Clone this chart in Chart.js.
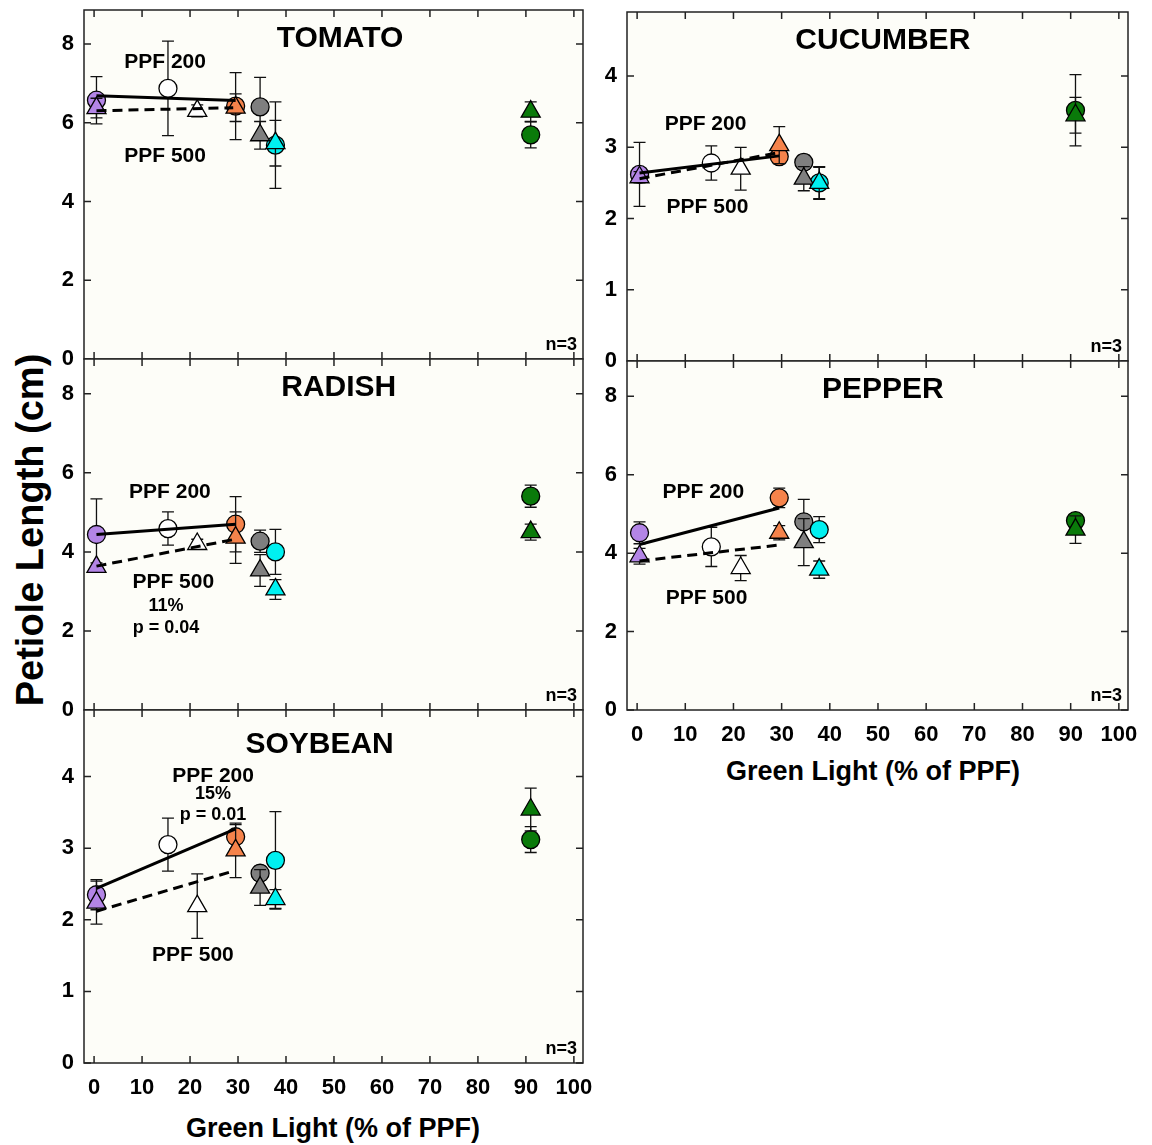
<!DOCTYPE html>
<html>
<head>
<meta charset="utf-8">
<script src="https://cdn.jsdelivr.net/npm/chart.js@4.4.0/dist/chart.umd.min.js"></script>
<style>
  body { margin: 0; background: #fff; width: 1152px; height: 1145px; position: relative; overflow: hidden;
         font-family: 'Liberation Sans', Arial, sans-serif; }
  canvas { position: absolute; }
  .axtitle { position: absolute; font-weight: bold; white-space: nowrap; color: #000; }
</style>
</head>
<body>
<div class="axtitle" style="left:30px;top:530px;font-size:38px;transform:translate(-50%,-50%) rotate(-90deg)">Petiole Length (cm)</div>
<div class="axtitle" style="left:333px;top:1128px;font-size:27px;transform:translate(-50%,-50%)">Green Light (% of PPF)</div>
<div class="axtitle" style="left:873px;top:771px;font-size:27px;transform:translate(-50%,-50%)">Green Light (% of PPF)</div>
<script>
// tick values
const xTicks = [0, 10, 20, 30, 40, 50, 60, 70, 80, 90, 100];
const tallTicks = [0, 2, 4, 6, 8];
const shortTicks = [0, 1, 2, 3, 4];

// green light % for each treatment (purple, white, orange, gray, cyan, green)
const x200 = [0.5, 15.4, 29.5, 34.6, 37.8, 91];
const x500 = [0.5, 21.5, 29.5, 34.6, 37.8, 91];
const fitX200 = [0.5, 29.5];
const fitX500 = [0.5, 29];
const markColors = ['#B385E6', '#FFFFFF', '#F5834B', '#7F7F7F', '#00F0F0', '#0A7A0A'];

// petiole length (cm), circles = PPF 200, triangles = PPF 500
const tomato200 = [6.57, 6.87, 6.42, 6.40, 5.43, 5.69];
const tomato200Err = [0.6, 1.2, 0.85, 0.75, 1.1, 0.33];
const tomato500 = [6.37, 6.3, 6.38, 5.68, 5.48, 6.28];
const tomato500Err = [0.25, 0.15, 0.35, 0.35, 0.58, 0.25];
const tomatoFit200 = [6.68, 6.56];
const tomatoFit500 = [6.3, 6.38];

const cucumber200 = [2.62, 2.78, 2.87, 2.79, 2.5, 3.52];
const cucumber200Err = [0.45, 0.24, 0.1, 0.1, 0.23, 0.5];
const cucumber500 = [2.58, 2.7, 3.03, 2.56, 2.5, 3.45];
const cucumber500Err = [0.08, 0.3, 0.26, 0.17, 0.22, 0.25];
const cucumberFit200 = [2.64, 2.88];
const cucumberFit500 = [2.56, 2.92];

const radish200 = [4.44, 4.59, 4.7, 4.27, 4.0, 5.41];
const radish200Err = [0.9, 0.42, 0.7, 0.28, 0.57, 0.28];
const radish500 = [3.62, 4.2, 4.36, 3.53, 3.05, 4.5];
const radish500Err = [0.1, 0.12, 0.65, 0.4, 0.25, 0.2];
const radishFit200 = [4.44, 4.7];
const radishFit500 = [3.64, 4.31];

const pepper200 = [4.52, 4.16, 5.41, 4.8, 4.6, 4.83];
const pepper200Err = [0.28, 0.5, 0.25, 0.57, 0.33, 0.15];
const pepper500 = [3.92, 3.62, 4.52, 4.28, 3.58, 4.6];
const pepper500Err = [0.2, 0.32, 0.18, 0.6, 0.22, 0.35];
const pepperFit200 = [4.22, 5.15];
const pepperFit500 = [3.8, 4.2];

const soybean200 = [2.35, 3.05, 3.16, 2.65, 2.83, 3.12];
const soybean200Err = [0.21, 0.37, 0.17, 0.1, 0.68, 0.18];
const soybean500 = [2.24, 2.19, 2.97, 2.45, 2.29, 3.54];
const soybean500Err = [0.3, 0.45, 0.38, 0.25, 0.13, 0.3];
const soybeanFit200 = [2.44, 3.27];
const soybeanFit500 = [2.12, 2.68];

const FONT = "'Liberation Sans', Arial, sans-serif";

// panel layout: plot box [left, top, right, bottom] in page px
const panels = [
  { name: 'TOMATO', box: [84, 10, 583, 359], yMax: 8.86, yTicks: tallTicks, showX: false,
    v200: tomato200, e200: tomato200Err, v500: tomato500, e500: tomato500Err, fit200: tomatoFit200, fit500: tomatoFit500,
    notes: [['TOMATO', 51.25, 8.12, 30], ['PPF 200', 14.8, 7.54, 21], ['PPF 500', 14.8, 5.15, 21]] },
  { name: 'CUCUMBER', box: [627, 12, 1128, 361], yMax: 4.9, yTicks: shortTicks, showX: false,
    v200: cucumber200, e200: cucumber200Err, v500: cucumber500, e500: cucumber500Err, fit200: cucumberFit200, fit500: cucumberFit500,
    notes: [['CUCUMBER', 51, 4.49, 30], ['PPF 200', 14.2, 3.32, 21], ['PPF 500', 14.6, 2.16, 21]] },
  { name: 'RADISH', box: [84, 359, 583, 710], yMax: 8.88, yTicks: tallTicks, showX: false,
    v200: radish200, e200: radish200Err, v500: radish500, e500: radish500Err, fit200: radishFit200, fit500: radishFit500,
    notes: [['RADISH', 51, 8.15, 30], ['PPF 200', 15.8, 5.52, 21], ['PPF 500', 16.5, 3.24, 21],
            ['11%', 15, 2.63, 18], ['p = 0.04', 15, 2.08, 18]] },
  { name: 'PEPPER', box: [627, 361, 1128, 710], yMax: 8.9, yTicks: tallTicks, showX: true,
    v200: pepper200, e200: pepper200Err, v500: pepper500, e500: pepper500Err, fit200: pepperFit200, fit500: pepperFit500,
    notes: [['PEPPER', 51, 8.16, 30], ['PPF 200', 13.75, 5.55, 21], ['PPF 500', 14.4, 2.86, 21]] },
  { name: 'SOYBEAN', box: [84, 710, 583, 1063], yMax: 4.93, yTicks: shortTicks, showX: true,
    v200: soybean200, e200: soybean200Err, v500: soybean500, e500: soybean500Err, fit200: soybeanFit200, fit500: soybeanFit500,
    notes: [['SOYBEAN', 47, 4.45, 30], ['PPF 200', 24.8, 4.01, 21], ['15%', 24.8, 3.76, 18],
            ['p = 0.01', 24.8, 3.47, 18], ['PPF 500', 20.6, 1.5, 21]] }
];

const framePlugin = {
  id: 'frame',
  beforeDraw(chart) {
    const { ctx, chartArea: a } = chart;
    ctx.save();
    ctx.fillStyle = '#FDFDF8';
    ctx.fillRect(a.left, a.top, a.right - a.left, a.bottom - a.top);
    ctx.restore();
  },
  // error bars go right under their own markers
  beforeDatasetDraw(chart, args) {
    const ds = chart.data.datasets[args.index];
    if (!ds.errors) return;
    const ctx = chart.ctx, ys = chart.scales.y;
    ctx.save();
    ctx.strokeStyle = '#111';
    ctx.lineWidth = 1.3;
    args.meta.data.forEach((pt, i) => {
      const v = ds.data[i].y, e = ds.errors[i];
      const t = ys.getPixelForValue(v + e), b = ys.getPixelForValue(v - e);
      ctx.beginPath();
      ctx.moveTo(pt.x, t); ctx.lineTo(pt.x, b);
      ctx.moveTo(pt.x - 6, t); ctx.lineTo(pt.x + 6, t);
      ctx.moveTo(pt.x - 6, b); ctx.lineTo(pt.x + 6, b);
      ctx.stroke();
    });
    ctx.restore();
  },
  afterDraw(chart, args, opts) {
    const { ctx, chartArea: a, scales } = chart;
    ctx.save();
    ctx.strokeStyle = '#222';
    ctx.lineWidth = 1.5;
    ctx.strokeRect(a.left, a.top, a.right - a.left, a.bottom - a.top);
    ctx.beginPath();
    scales.x.ticks.forEach(t => {
      const px = scales.x.getPixelForValue(t.value);
      ctx.moveTo(px, a.bottom); ctx.lineTo(px, a.bottom - 7);
      ctx.moveTo(px, a.top); ctx.lineTo(px, a.top + 7);
    });
    scales.y.ticks.forEach(t => {
      const py = scales.y.getPixelForValue(t.value);
      ctx.moveTo(a.left, py); ctx.lineTo(a.left + 7, py);
      ctx.moveTo(a.right, py); ctx.lineTo(a.right - 7, py);
    });
    ctx.stroke();

    ctx.fillStyle = '#000';
    ctx.textAlign = 'center';
    ctx.textBaseline = 'middle';
    (opts.notes || []).forEach(([text, x, y, size]) => {
      ctx.font = `bold ${size}px ${FONT}`;
      ctx.fillText(text, scales.x.getPixelForValue(x), scales.y.getPixelForValue(y));
    });
    ctx.font = `bold 18px ${FONT}`;
    ctx.textAlign = 'right';
    ctx.fillText('n=3', a.right - 6, a.bottom - 14);
    ctx.restore();
  }
};

// extra room round each plot so Chart.js never shrinks the plot box for label overhang
const yAxisW = 60, padT = 30, padR = 30, padB = 30;

panels.forEach(p => {
  const [L, T, R, B] = p.box;
  const xh = p.showX ? 44 : 0;
  const w = (R - L) + yAxisW + padR;
  const h = (B - T) + padT + padB + xh;
  const canvas = document.createElement('canvas');
  canvas.width = w; canvas.height = h;
  canvas.style.left = (L - yAxisW) + 'px';
  canvas.style.top = (T - padT) + 'px';
  canvas.style.width = w + 'px';
  canvas.style.height = h + 'px';
  document.body.appendChild(canvas);

  const datasets = [
    { label: 'PPF 200 fit', data: fitX200.map((x, i) => ({ x, y: p.fit200[i] })),
      showLine: true, borderColor: '#000', borderWidth: 3, pointRadius: 0, order: 0 },
    { label: 'PPF 500 fit', data: fitX500.map((x, i) => ({ x, y: p.fit500[i] })),
      showLine: true, borderColor: '#000', borderWidth: 3, borderDash: [10, 6], pointRadius: 0, order: 1 },
    { label: 'PPF 500', data: x500.map((x, i) => ({ x, y: p.v500[i] })), errors: p.e500,
      pointStyle: 'triangle', pointRadius: 11, pointBackgroundColor: markColors,
      pointBorderColor: '#000', pointBorderWidth: 1.3, order: 2 },
    { label: 'PPF 200', data: x200.map((x, i) => ({ x, y: p.v200[i] })), errors: p.e200,
      pointStyle: 'circle', pointRadius: 9, pointBackgroundColor: markColors,
      pointBorderColor: '#000', pointBorderWidth: 1.3, order: 3 }
  ];

  new Chart(canvas.getContext('2d'), {
    type: 'scatter',
    data: { datasets },
    plugins: [framePlugin],
    options: {
      responsive: false,
      animation: false,
      devicePixelRatio: 1,
      layout: { padding: { top: padT, right: padR, bottom: padB, left: 0 } },
      plugins: { legend: { display: false }, tooltip: { enabled: false }, frame: { notes: p.notes } },
      scales: {
        x: {
          type: 'linear', min: -2.1, max: 101.9,
          grid: { display: false, drawTicks: false }, border: { display: false },
          ticks: { display: p.showX, autoSkip: false, maxRotation: 0, padding: 12, color: '#000',
                   font: { family: FONT, size: 22, weight: 'bold' } },
          afterBuildTicks: s => { s.ticks = xTicks.map(v => ({ value: v })); },
          afterFit: s => { s.height = xh; }
        },
        y: {
          type: 'linear', min: 0, max: p.yMax,
          grid: { display: false, drawTicks: false }, border: { display: false },
          ticks: { autoSkip: false, padding: 10, color: '#000',
                   font: { family: FONT, size: 22, weight: 'bold' } },
          afterBuildTicks: s => { s.ticks = p.yTicks.map(v => ({ value: v })); },
          afterFit: s => { s.width = yAxisW; }
        }
      }
    }
  });
});
</script>
</body>
</html>
